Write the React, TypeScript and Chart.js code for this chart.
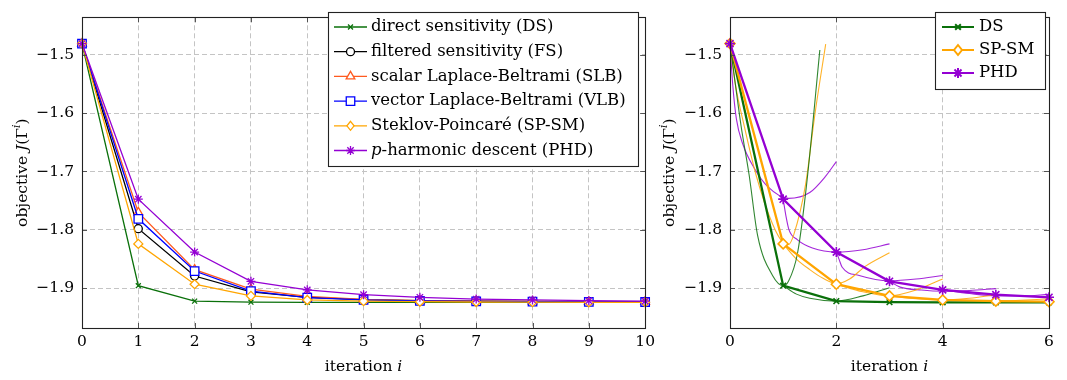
import React, { useEffect, useRef } from "react";
import { Chart, registerables } from "chart.js";

Chart.register(...registerables);

const FONT_FAMILY = "'DejaVu Serif', 'Liberation Serif', serif";
const FONT_SIZE = 15.5;
const LEGEND_FONT_SIZE = 16.5;

// ---------------- data ----------------
const iterations = [0, 1, 2, 3, 4, 5, 6, 7, 8, 9, 10];
const dsObjective = [-1.481, -1.8955, -1.922, -1.9238, -1.924, -1.924, -1.924, -1.924, -1.924, -1.924, -1.924];
const fsObjective = [-1.481, -1.798, -1.879, -1.906, -1.9155, -1.9195, -1.921, -1.922, -1.9225, -1.923, -1.9235];
const slbObjective = [-1.481, -1.77, -1.868, -1.9015, -1.9138, -1.919, -1.921, -1.922, -1.9225, -1.923, -1.9233];
const vlbObjective = [-1.481, -1.781, -1.8705, -1.905, -1.916, -1.92, -1.9215, -1.9225, -1.923, -1.9233, -1.9235];
const spObjective = [-1.481, -1.824, -1.893, -1.913, -1.92, -1.922, -1.923, -1.9235, -1.9238, -1.924, -1.924];
const phdObjective = [-1.481, -1.7474, -1.838, -1.888, -1.9027, -1.911, -1.9154, -1.9185, -1.92, -1.9212, -1.922];

const rightIterations = [0, 1, 2, 3, 4, 5, 6];

const leftXTicks = [0, 1, 2, 3, 4, 5, 6, 7, 8, 9, 10];
const rightXTicks = [0, 2, 4, 6];
const yTicks = [-1.9, -1.8, -1.7, -1.6, -1.5];
const yMin = -1.968;
const yMax = -1.436;

// line-search curves: [step position, objective]
const dsSearch0 = [[0, -1.481], [0.1, -1.55], [0.21, -1.623], [0.36, -1.706], [0.52, -1.81], [0.8, -1.878], [1.0, -1.8955], [1.1, -1.888], [1.27, -1.84], [1.44, -1.723], [1.69, -1.492]];
const dsSearch1 = [[1, -1.8955], [1.25, -1.91], [1.5, -1.917], [2, -1.922], [2.5, -1.913], [3, -1.899]];
const spSearch0 = [[0, -1.481], [0.1, -1.55], [0.27, -1.623], [0.49, -1.706], [0.8, -1.79], [1.0, -1.822], [1.1, -1.825], [1.2, -1.808], [1.42, -1.723], [1.6, -1.6], [1.8, -1.482]];
const spSearch1 = [[1, -1.824], [1.25, -1.85], [1.5, -1.868], [1.75, -1.883], [2.0, -1.892], [2.25, -1.884], [2.55, -1.862], [3, -1.839]];
const spSearch2 = [[2, -1.893], [2.5, -1.906], [3, -1.913], [3.5, -1.903], [4, -1.884]];
const spSearch3 = [[3, -1.913], [3.5, -1.918], [4, -1.92], [4.5, -1.917], [5, -1.911]];
const spSearch4 = [[4, -1.92], [5, -1.922], [6, -1.918]];
const phdSearch0 = [[0, -1.481], [0.05, -1.55], [0.12, -1.61], [0.24, -1.653], [0.46, -1.695], [0.71, -1.726], [1.1, -1.746], [1.5, -1.736], [1.8, -1.708], [2.0, -1.683]];
const phdSearch1 = [[1, -1.7474], [1.05, -1.775], [1.11, -1.8], [1.27, -1.817], [1.55, -1.831], [2, -1.838], [2.5, -1.834], [3, -1.824]];
const phdSearch2 = [[2, -1.838], [2.05, -1.85], [2.11, -1.864], [2.43, -1.878], [3, -1.887], [3.5, -1.884], [4, -1.878]];
const phdSearch3 = [[3, -1.888], [3.2, -1.898], [3.6, -1.903], [4, -1.905], [4.5, -1.904], [5, -1.9005]];
const phdSearch4 = [[4, -1.9027], [4.5, -1.909], [5, -1.913], [5.5, -1.913], [6, -1.9105]];

// ---------------- styles ----------------
const GREEN = "#0a700a";
const BLACK = "#000000";
const RED = "#ff5a1f";
const BLUE = "#0000ff";
const ORANGE = "#ffa500";
const PURPLE = "#9400d3";
const GRID = "#c4c4c4";

type Part = { t: string; it?: boolean; sup?: boolean };

const xTitleParts: Part[] = [{ t: "iteration " }, { t: "i", it: true }];
const yTitleParts: Part[] = [{ t: "objective " }, { t: "J", it: true }, { t: "(Γ" }, { t: "i", it: true, sup: true }, { t: ")" }];

function fontOf(p: Part, size: number) {
  const s = p.sup ? size * 0.7 : size;
  return `${p.it ? "italic " : ""}${s}px ${FONT_FAMILY}`;
}
function measureRich(ctx: CanvasRenderingContext2D, parts: Part[], size: number) {
  let w = 0;
  for (const p of parts) {
    ctx.font = fontOf(p, size);
    w += ctx.measureText(p.t).width;
  }
  return w;
}
function drawRich(ctx: CanvasRenderingContext2D, parts: Part[], x: number, y: number, size: number, align: "left" | "center") {
  const total = measureRich(ctx, parts, size);
  let cx = align === "center" ? x - total / 2 : x;
  ctx.textBaseline = "middle";
  ctx.textAlign = "left";
  ctx.fillStyle = "#000";
  for (const p of parts) {
    ctx.font = fontOf(p, size);
    ctx.fillText(p.t, cx, p.sup ? y - size * 0.38 : y);
    cx += ctx.measureText(p.t).width;
  }
}

function drawMarker(ctx: CanvasRenderingContext2D, style: string, x: number, y: number, r: number, color: string, lw: number) {
  ctx.save();
  ctx.strokeStyle = color;
  ctx.fillStyle = "#fff";
  ctx.lineWidth = lw;
  ctx.beginPath();
  if (style === "circle") {
    ctx.arc(x, y, r, 0, Math.PI * 2);
    ctx.fill();
    ctx.stroke();
  } else if (style === "rect") {
    const s = r * Math.SQRT1_2;
    ctx.rect(x - s, y - s, 2 * s, 2 * s);
    ctx.fill();
    ctx.stroke();
  } else if (style === "rectRot") {
    ctx.moveTo(x, y - r);
    ctx.lineTo(x + r * 0.8, y);
    ctx.lineTo(x, y + r);
    ctx.lineTo(x - r * 0.8, y);
    ctx.closePath();
    ctx.fill();
    ctx.stroke();
  } else if (style === "triangle") {
    let a = 0;
    ctx.moveTo(x + Math.sin(a) * r, y - Math.cos(a) * r);
    a += (2 * Math.PI) / 3;
    ctx.lineTo(x + Math.sin(a) * r, y - Math.cos(a) * r);
    a += (2 * Math.PI) / 3;
    ctx.lineTo(x + Math.sin(a) * r, y - Math.cos(a) * r);
    ctx.closePath();
    ctx.fill();
    ctx.stroke();
  } else {
    const d = r * Math.SQRT1_2;
    ctx.moveTo(x - d, y - d);
    ctx.lineTo(x + d, y + d);
    ctx.moveTo(x - d, y + d);
    ctx.lineTo(x + d, y - d);
    if (style === "star") {
      ctx.moveTo(x, y - r);
      ctx.lineTo(x, y + r);
      ctx.moveTo(x - r, y);
      ctx.lineTo(x + r, y);
    }
    ctx.stroke();
  }
  ctx.restore();
}

type LegendEntry = { parts: Part[]; color: string; style: string; r: number; lw: number };
type LegendBox = { x0: number; x1: number; y0: number; y1: number; rowY: number; rowGap: number; lineX0: number; lineX1: number; textX: number; entries: LegendEntry[] };

function decorPlugin(xTicks: number[], yTitleX: number, legend: LegendBox) {
  return {
    id: "decor",
    afterDraw(chart: any) {
      const ctx: CanvasRenderingContext2D = chart.ctx;
      const { left, right, top, bottom } = chart.chartArea;
      const xs = chart.scales.x;
      const ys = chart.scales.y;
      ctx.save();
      // tick marks (inward, all four sides)
      ctx.strokeStyle = "#444";
      ctx.lineWidth = 0.9;
      ctx.beginPath();
      const tl = 5;
      for (const v of xTicks) {
        const px = Math.round(xs.getPixelForValue(v)) + 0.5;
        ctx.moveTo(px, bottom);
        ctx.lineTo(px, bottom - tl);
        ctx.moveTo(px, top);
        ctx.lineTo(px, top + tl);
      }
      for (const v of yTicks) {
        const py = Math.round(ys.getPixelForValue(v)) + 0.5;
        ctx.moveTo(left, py);
        ctx.lineTo(left + tl, py);
        ctx.moveTo(right, py);
        ctx.lineTo(right - tl, py);
      }
      ctx.stroke();
      // frame
      ctx.strokeStyle = "#222";
      ctx.lineWidth = 1.1;
      ctx.strokeRect(Math.round(left) + 0.5, Math.round(top) + 0.5, Math.round(right - left), Math.round(bottom - top));
      // axis titles
      drawRich(ctx, xTitleParts, (left + right) / 2, 367, FONT_SIZE, "center");
      ctx.save();
      ctx.translate(yTitleX, (top + bottom) / 2);
      ctx.rotate(-Math.PI / 2);
      drawRich(ctx, yTitleParts, 0, 0, FONT_SIZE, "center");
      ctx.restore();
      // legend
      ctx.fillStyle = "#fff";
      ctx.fillRect(legend.x0, legend.y0, legend.x1 - legend.x0, legend.y1 - legend.y0);
      ctx.strokeStyle = "#222";
      ctx.lineWidth = 1.1;
      ctx.strokeRect(legend.x0 + 0.5, legend.y0 + 0.5, legend.x1 - legend.x0, legend.y1 - legend.y0);
      legend.entries.forEach((e, i) => {
        const y = legend.rowY + i * legend.rowGap;
        ctx.strokeStyle = e.color;
        ctx.lineWidth = e.lw;
        ctx.beginPath();
        ctx.moveTo(legend.lineX0, y);
        ctx.lineTo(legend.lineX1, y);
        ctx.stroke();
        drawMarker(ctx, e.style, (legend.lineX0 + legend.lineX1) / 2, y, e.r, e.color, e.lw);
        drawRich(ctx, e.parts, legend.textX, y, LEGEND_FONT_SIZE, "left");
      });
      ctx.restore();
    },
  };
}

function makeScales(xTicks: number[], xMax: number, yAxisWidth: number) {
  const font = { family: FONT_FAMILY, size: FONT_SIZE };
  return {
    x: {
      type: "linear",
      min: 0,
      max: xMax,
      afterBuildTicks: (s: any) => {
        s.ticks = xTicks.map((v) => ({ value: v }));
      },
      afterFit: (s: any) => {
        s.height = 52;
      },
      grid: { color: GRID, lineWidth: 1, drawTicks: false },
      border: { display: false, dash: [5, 3] },
      ticks: { padding: 5, color: "#000", font, maxRotation: 0, autoSkip: false, callback: (v: any) => String(v) },
    },
    y: {
      type: "linear",
      min: yMin,
      max: yMax,
      afterBuildTicks: (s: any) => {
        s.ticks = yTicks.map((v) => ({ value: v }));
      },
      afterFit: (s: any) => {
        s.width = yAxisWidth;
      },
      grid: { color: GRID, lineWidth: 1, drawTicks: false },
      border: { display: false, dash: [5, 3] },
      ticks: {
        padding: 8,
        color: "#000",
        font,
        callback: (v: any) => Number(v).toFixed(1).replace("-", "\u2212"),
      },
    },
  };
}

const toXY = (xs: number[], ys: number[]) => ys.map((y, i) => ({ x: xs[i], y }));
const pairsToXY = (pairs: number[][]) => pairs.map((p) => ({ x: p[0], y: p[1] }));

const leftSeries = [
  { parts: [{ t: "direct sensitivity (DS)" }], values: dsObjective, color: GREEN, style: "crossRot", r: 3.5 },
  { parts: [{ t: "filtered sensitivity (FS)" }], values: fsObjective, color: BLACK, style: "circle", r: 4 },
  { parts: [{ t: "scalar Laplace-Beltrami (SLB)" }], values: slbObjective, color: RED, style: "triangle", r: 5 },
  { parts: [{ t: "vector Laplace-Beltrami (VLB)" }], values: vlbObjective, color: BLUE, style: "rect", r: 6 },
  { parts: [{ t: "Steklov-Poincaré (SP-SM)" }], values: spObjective, color: ORANGE, style: "rectRot", r: 4.5 },
  { parts: [{ t: "p", it: true }, { t: "-harmonic descent (PHD)" }], values: phdObjective, color: PURPLE, style: "star", r: 4.5 },
];

const rightSeries = [
  { parts: [{ t: "DS" }], values: dsObjective, color: GREEN, style: "crossRot", r: 4, searches: [dsSearch0, dsSearch1] },
  { parts: [{ t: "SP-SM" }], values: spObjective, color: ORANGE, style: "rectRot", r: 5, searches: [spSearch0, spSearch1, spSearch2, spSearch3, spSearch4] },
  { parts: [{ t: "PHD" }], values: phdObjective, color: PURPLE, style: "star", r: 5, searches: [phdSearch0, phdSearch1, phdSearch2, phdSearch3, phdSearch4] },
];

function withAlpha(hex: string, a: number) {
  const n = parseInt(hex.slice(1), 16);
  return `rgba(${(n >> 16) & 255},${(n >> 8) & 255},${n & 255},${a})`;
}

function leftConfig(): any {
  const n = leftSeries.length;
  return {
    type: "line",
    data: {
      datasets: leftSeries.map((s, i) => ({
        label: s.parts.map((p) => p.t).join(""),
        data: toXY(iterations, s.values),
        borderColor: s.color,
        backgroundColor: s.color,
        borderWidth: 1.3,
        pointStyle: s.style,
        pointRadius: s.r,
        pointBorderColor: s.color,
        pointBackgroundColor: "#fff",
        pointBorderWidth: 1.3,
        tension: 0,
        clip: false,
        order: n - i,
      })),
    },
    options: {
      responsive: false,
      animation: false,
      devicePixelRatio: 1,
      events: [],
      layout: { padding: { left: 0, right: 13, top: 8, bottom: 0 } },
      plugins: { legend: { display: false }, tooltip: { enabled: false } },
      scales: makeScales(leftXTicks, 10, 82),
    },
    plugins: [
      decorPlugin(leftXTicks, 23, {
        x0: 328, x1: 638, y0: 12, y1: 166, rowY: 27, rowGap: 24.7, lineX0: 334, lineX1: 367, textX: 371,
        entries: leftSeries.map((s) => ({ parts: s.parts, color: s.color, style: s.style, r: s.r, lw: 1.3 })),
      }),
    ],
  };
}

function rightConfig(): any {
  const datasets: any[] = [];
  rightSeries.forEach((s, i) => {
    datasets.push({
      label: s.parts[0].t,
      data: toXY(rightIterations, s.values.slice(0, rightIterations.length)),
      borderColor: s.color,
      backgroundColor: s.color,
      borderWidth: 2.3,
      pointStyle: s.style,
      pointRadius: s.r,
      pointBorderColor: s.color,
      pointBackgroundColor: "#fff",
      pointBorderWidth: 1.6,
      tension: 0,
      clip: false,
      order: 3 - i,
    });
  });
  rightSeries.forEach((s) => {
    s.searches.forEach((curve) => {
      datasets.push({
        label: "",
        data: pairsToXY(curve),
        borderColor: withAlpha(s.color, 0.85),
        borderWidth: 1.1,
        pointRadius: 0,
        cubicInterpolationMode: "monotone",
        clip: false,
        order: 10,
      });
    });
  });
  return {
    type: "line",
    data: { datasets },
    options: {
      responsive: false,
      animation: false,
      devicePixelRatio: 1,
      events: [],
      layout: { padding: { left: 0, right: 18, top: 8, bottom: 0 } },
      plugins: { legend: { display: false }, tooltip: { enabled: false } },
      scales: makeScales(rightXTicks, 6, 85),
    },
    plugins: [
      decorPlugin(rightXTicks, 25, {
        x0: 290, x1: 400, y0: 12, y1: 89, rowY: 27, rowGap: 23, lineX0: 297, lineX1: 329, textX: 334,
        entries: rightSeries.map((s) => ({ parts: s.parts, color: s.color, style: s.style, r: s.r, lw: 2 })),
      }),
    ],
  };
}

export default function App() {
  const leftRef = useRef<HTMLCanvasElement>(null);
  const rightRef = useRef<HTMLCanvasElement>(null);
  useEffect(() => {
    const c1 = new Chart(leftRef.current as HTMLCanvasElement, leftConfig());
    const c2 = new Chart(rightRef.current as HTMLCanvasElement, rightConfig());
    return () => {
      c1.destroy();
      c2.destroy();
    };
  }, []);
  return (
    <div style={{ position: "absolute", left: 0, top: 0, width: 1067, height: 380, background: "#fff" }}>
      <canvas ref={leftRef} width={660} height={380} style={{ position: "absolute", left: 0, top: 0 }} />
      <canvas ref={rightRef} width={422} height={380} style={{ position: "absolute", left: 645, top: 0 }} />
    </div>
  );
}
